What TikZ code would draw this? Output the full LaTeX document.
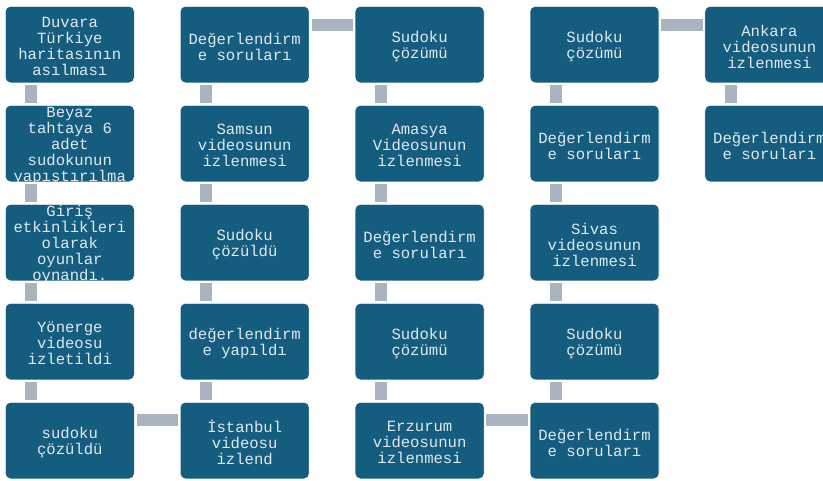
\documentclass[tikz,border=0pt]{standalone}
\usepackage{fontspec}
\setmonofont{Liberation Mono}
\usepackage{tikz}
\usetikzlibrary{positioning}
\definecolor{boxblue}{RGB}{21,93,126}
\definecolor{bargray}{RGB}{169,180,192}
\definecolor{txtlight}{RGB}{224,233,239}
\newcommand\stepfont{\ttfamily\fontsize{15.6}{16}\selectfont}
\tikzset{
    stepbox/.style={rectangle, rounded corners=5pt, minimum width=129pt, minimum height=76.5pt, inner sep=0pt, draw=white, line width=0.6pt, fill=boxblue,
        path picture={\node[steptext] at ([yshift=-2pt]path picture bounding box.center) {#1};}},
    steptext/.style={anchor=center, draw=none, fill=none, text=txtlight, align=center, font=\stepfont, inner sep=0pt},
    vbar/.style={draw=bargray, line width=12pt, shorten <=2pt, shorten >=2pt},
    hbar/.style={draw=bargray, line width=12pt, shorten <=2pt, shorten >=2pt}
}

\begin{document}
\begin{tikzpicture}[x=1pt, y=-1pt, node distance=21.9pt and 45.3pt]
    \useasboundingbox (0,0) rectangle (823,480);
    \clip (0,0) rectangle (823,480);
    % column 1, top to bottom
    \node (duvara) [stepbox={Duvara\\Türkiye\\haritasının\\asılması}, anchor=north west] at (5,6) {};
    \node (beyaz) [stepbox={Beyaz\\tahtaya 6\\adet\\sudokunun\\yapıştırılma}, below=of duvara] {};
    \node (giris) [stepbox={Giriş\\etkinlikleri\\olarak\\oyunlar\\oynandı.}, below=of beyaz] {};
    \node (yonerge) [stepbox={Yönerge\\videosu\\izletildi}, below=of giris] {};
    \node (sudoku) [stepbox={sudoku\\çözüldü}, below=of yonerge] {};
    % column 2, bottom to top
    \node (istanbul) [stepbox={İstanbul\\videosu\\izlend}, right=of sudoku] {};
    \node (degyap) [stepbox={değerlendirm\\e yapıldı}, above=of istanbul] {};
    \node (cozuldu) [stepbox={Sudoku\\çözüldü}, above=of degyap] {};
    \node (samsun) [stepbox={Samsun\\videosunun\\izlenmesi}, above=of cozuldu] {};
    \node (degsor1) [stepbox={Değerlendirm\\e soruları}, above=of samsun] {};
    % column 3, top to bottom
    \node (cozum1) [stepbox={Sudoku\\çözümü}, right=of degsor1] {};
    \node (amasya) [stepbox={Amasya\\Videosunun\\izlenmesi}, below=of cozum1] {};
    \node (degsor2) [stepbox={Değerlendirm\\e soruları}, below=of amasya] {};
    \node (cozum2) [stepbox={Sudoku\\çözümü}, below=of degsor2] {};
    \node (erzurum) [stepbox={Erzurum\\videosunun\\izlenmesi}, below=of cozum2] {};
    % column 4, bottom to top
    \node (degsor3) [stepbox={Değerlendirm\\e soruları}, right=of erzurum] {};
    \node (cozum3) [stepbox={Sudoku\\çözümü}, above=of degsor3] {};
    \node (sivas) [stepbox={Sivas\\videosunun\\izlenmesi}, above=of cozum3] {};
    \node (degsor4) [stepbox={Değerlendirm\\e soruları}, above=of sivas] {};
    \node (cozum4) [stepbox={Sudoku\\çözümü}, above=of degsor4] {};
    % column 5
    \node (ankara) [stepbox={Ankara\\videosunun\\izlenmesi}, right=of cozum4] {};
    \node (degsor5) [stepbox={Değerlendirm\\e soruları}, below=of ankara] {};

    \draw [vbar] ([xshift=26pt]duvara.south west) -- ([xshift=26pt]beyaz.north west);
    \draw [vbar] ([xshift=26pt]beyaz.south west) -- ([xshift=26pt]giris.north west);
    \draw [vbar] ([xshift=26pt]giris.south west) -- ([xshift=26pt]yonerge.north west);
    \draw [vbar] ([xshift=26pt]yonerge.south west) -- ([xshift=26pt]sudoku.north west);
    \draw [hbar] ([yshift=-18pt]sudoku.north east) -- ([yshift=-18pt]istanbul.north west);
    \draw [vbar] ([xshift=26pt]istanbul.north west) -- ([xshift=26pt]degyap.south west);
    \draw [vbar] ([xshift=26pt]degyap.north west) -- ([xshift=26pt]cozuldu.south west);
    \draw [vbar] ([xshift=26pt]cozuldu.north west) -- ([xshift=26pt]samsun.south west);
    \draw [vbar] ([xshift=26pt]samsun.north west) -- ([xshift=26pt]degsor1.south west);
    \draw [hbar] ([yshift=-19pt]degsor1.north east) -- ([yshift=-19pt]cozum1.north west);
    \draw [vbar] ([xshift=26pt]cozum1.south west) -- ([xshift=26pt]amasya.north west);
    \draw [vbar] ([xshift=26pt]amasya.south west) -- ([xshift=26pt]degsor2.north west);
    \draw [vbar] ([xshift=26pt]degsor2.south west) -- ([xshift=26pt]cozum2.north west);
    \draw [vbar] ([xshift=26pt]cozum2.south west) -- ([xshift=26pt]erzurum.north west);
    \draw [hbar] ([yshift=-18pt]erzurum.north east) -- ([yshift=-18pt]degsor3.north west);
    \draw [vbar] ([xshift=26pt]degsor3.north west) -- ([xshift=26pt]cozum3.south west);
    \draw [vbar] ([xshift=26pt]cozum3.north west) -- ([xshift=26pt]sivas.south west);
    \draw [vbar] ([xshift=26pt]sivas.north west) -- ([xshift=26pt]degsor4.south west);
    \draw [vbar] ([xshift=26pt]degsor4.north west) -- ([xshift=26pt]cozum4.south west);
    \draw [hbar] ([yshift=-19pt]cozum4.north east) -- ([yshift=-19pt]ankara.north west);
    \draw [vbar] ([xshift=26pt]ankara.south west) -- ([xshift=26pt]degsor5.north west);
\end{tikzpicture}
\end{document}
